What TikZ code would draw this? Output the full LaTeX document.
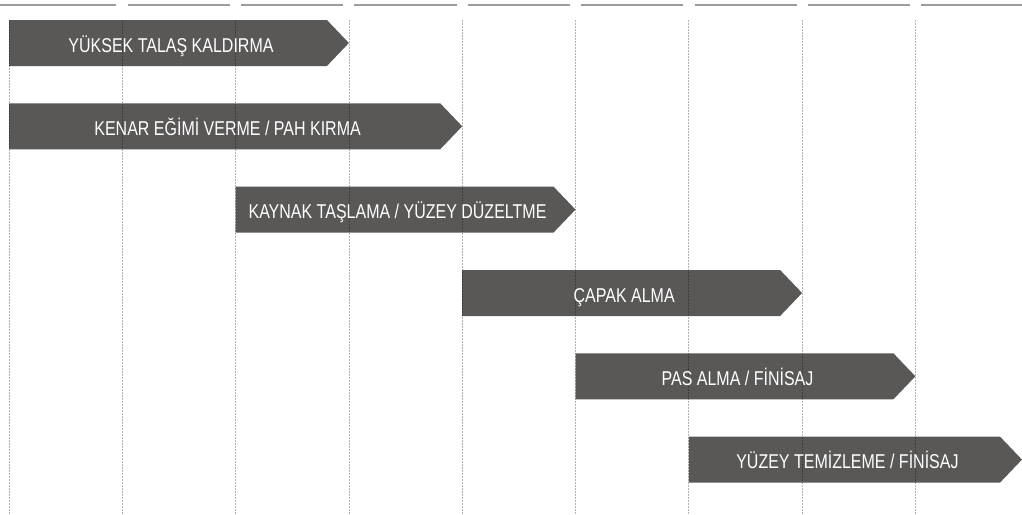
\documentclass[tikz,border=0pt]{standalone}
\usepackage{fontspec}
\newfontfamily\barfont[FakeStretch=0.80]{Liberation Sans}
\definecolor{barfill}{HTML}{595857}
\definecolor{rulegray}{HTML}{9B9B9B}
\tikzset{
  phase/.style={fill=barfill},
  phaselabel/.style={text=white, anchor=base, inner sep=0pt, font=\barfont\fontsize{20}{24}\selectfont},
  gridline/.style={black, opacity=0.3, line width=0.8pt, dash pattern=on 2pt off 1pt},
  topline/.style={rulegray, line width=1.2pt}
}
\begin{document}
\begin{tikzpicture}[x=1pt,y=-1pt]
                    \useasboundingbox (0,0) rectangle (1022,514);
                    % Top rule
                    \draw[topline] (0,5) -- (116,5);
                    \draw[topline] (128,5) -- (230,5);
                    \draw[topline] (241,5) -- (343,5);
                    \draw[topline] (354,5) -- (457,5);
                    \draw[topline] (468,5) -- (570,5);
                    \draw[topline] (581,5) -- (683,5);
                    \draw[topline] (695,5) -- (797,5);
                    \draw[topline] (808,5) -- (910,5);
                    \draw[topline] (921,5) -- (1022,5);
                    % Bars
                    \fill[phase] (9,20) -- (326.9,20) -- (348.9,43) -- (326.9,66) -- (9,66) -- cycle;
                    \fill[phase] (9,103.3) -- (440.2,103.3) -- (462.2,126.3) -- (440.2,149.3) -- (9,149.3) -- cycle;
                    \fill[phase] (235.6,186.6) -- (553.5,186.6) -- (575.5,209.6) -- (553.5,232.6) -- (235.6,232.6) -- cycle;
                    \fill[phase] (462.2,270) -- (780.1,270) -- (802.1,293) -- (780.1,316) -- (462.2,316) -- cycle;
                    \fill[phase] (575.5,353.3) -- (893.4,353.3) -- (915.4,376.3) -- (893.4,399.3) -- (575.5,399.3) -- cycle;
                    \fill[phase] (688.8,436.6) -- (1000,436.6) -- (1022,459.6) -- (1000,482.6) -- (688.8,482.6) -- cycle;
                    % Grid
                    \draw[gridline] (9,20) -- (9,514);
                    \draw[gridline] (122.3,20) -- (122.3,514);
                    \draw[gridline] (235.6,20) -- (235.6,514);
                    \draw[gridline] (348.9,20) -- (348.9,514);
                    \draw[gridline] (462.2,20) -- (462.2,514);
                    \draw[gridline] (575.5,20) -- (575.5,514);
                    \draw[gridline] (688.8,20) -- (688.8,514);
                    \draw[gridline] (802.1,20) -- (802.1,514);
                    \draw[gridline] (915.4,20) -- (915.4,514);
                    % Labels
                    \node[phaselabel] (talas) at (171,52) {YÜKSEK TALAŞ KALDIRMA};
                    \node[phaselabel] (kenar) at (227.6,135.3) {KENAR EĞİMİ VERME / PAH KIRMA};
                    \node[phaselabel] (kaynak) at (397.5,218.6) {KAYNAK TAŞLAMA / YÜZEY DÜZELTME};
                    \node[phaselabel] (capak) at (624.2,302) {ÇAPAK ALMA};
                    \node[phaselabel] (pas) at (737.5,385.3) {PAS ALMA / FİNİSAJ};
                    \node[phaselabel] (temizleme) at (847.4,468.6) {YÜZEY TEMİZLEME / FİNİSAJ};
                \end{tikzpicture}
\end{document}
